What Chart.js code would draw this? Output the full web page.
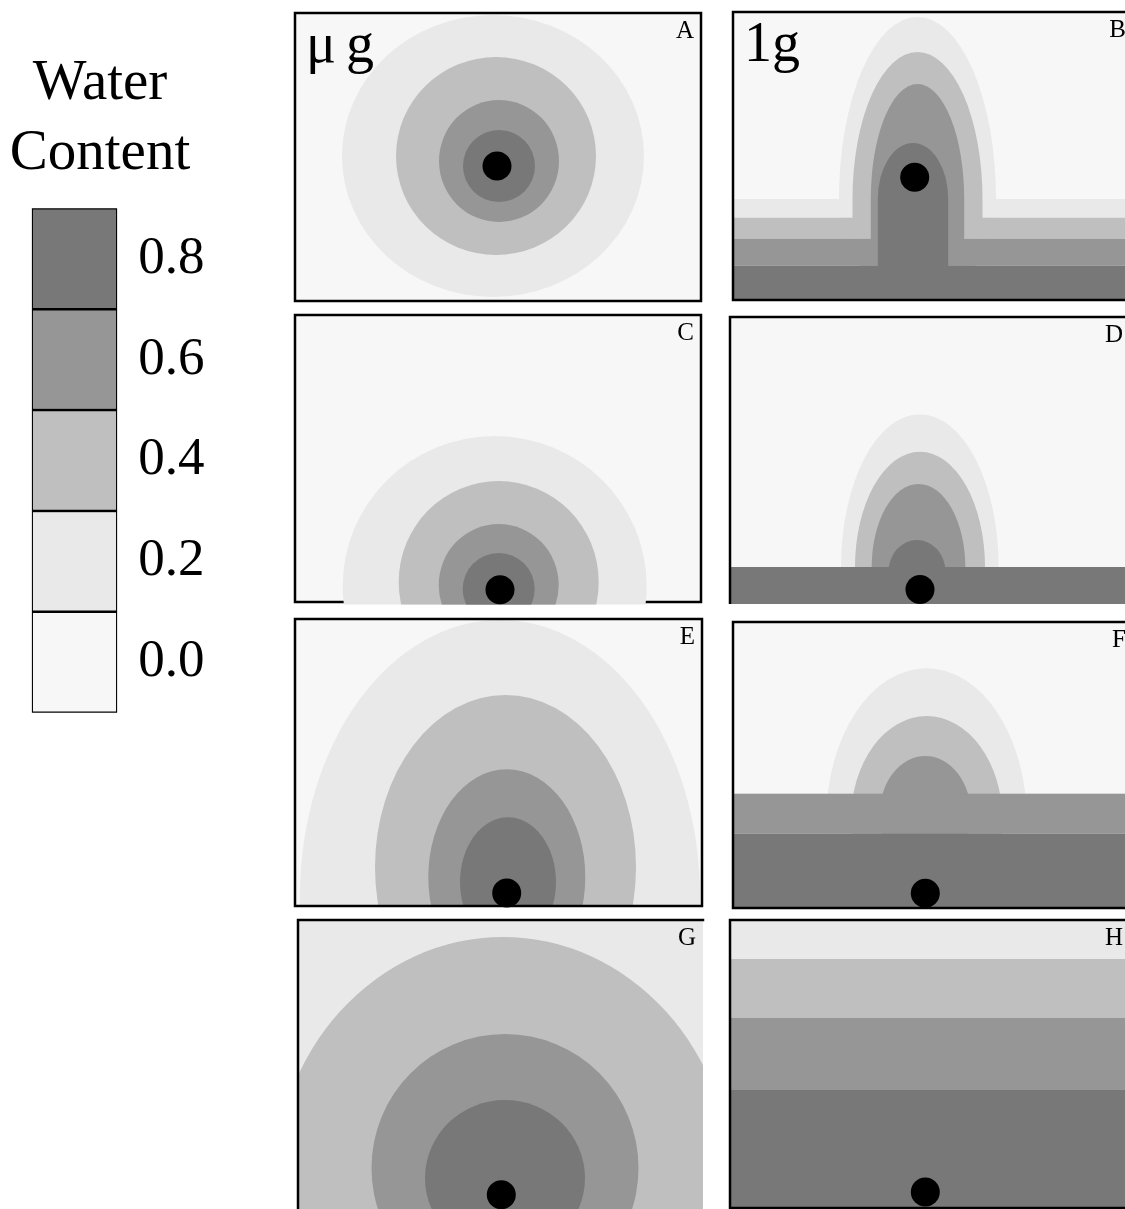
<!DOCTYPE html>
<html>
<head>
<meta charset="utf-8">
<script src="https://cdn.jsdelivr.net/npm/chart.js@4.4.1/dist/chart.umd.min.js"></script>
<style>
  html, body { margin: 0; padding: 0; background: #fff; }
  body { width: 1125px; height: 1209px; overflow: hidden; position: relative; }
  canvas { position: absolute; }
</style>
</head>
<body>
<canvas id="legend" width="230" height="780" style="left:-9px;top:0;width:230px;height:780px"></canvas>
<script>
// water content classes
const levels = [0.0, 0.2, 0.4, 0.6, 0.8];
const levelLabels = ['0.0', '0.2', '0.4', '0.6', '0.8'];
const panelLetters = ['A', 'B', 'C', 'D', 'E', 'F', 'G', 'H'];
const gravityLabels = ['\u03bcg', '1g'];

// contour ellipses: [level, centre x, centre depth, half width, half height]
const contoursA = [[0.2, 198, 143, 151, 141], [0.4, 201, 143, 100, 99], [0.6, 204, 148, 60, 61], [0.8, 204, 153, 36, 36]];
const contoursB = [[0.2, 184.5, 187, 78.5, 182], [0.4, 184.5, 187, 65, 147], [0.6, 184.5, 187, 46.7, 115], [0.8, 180, 187, 35.2, 56]];
const contoursC = [[0.2, 199.7, 271, 152, 150], [0.4, 203.7, 267, 100, 101], [0.6, 203.7, 270, 60, 61], [0.8, 203.7, 274, 36, 36]];
const contoursD = [[0.2, 189.8, 250, 78.8, 152.7], [0.4, 190, 250, 65, 115.3], [0.6, 188.5, 250, 46.8, 83], [0.8, 187, 255, 28.5, 32]];
const contoursE = [[0.2, 205, 277, 200, 276], [0.4, 210.5, 248, 130.5, 172], [0.6, 211.8, 258, 78.5, 107.7], [0.8, 213, 263, 48, 64.7]];
const contoursF = [[0.2, 193.5, 198, 100.3, 151.7], [0.4, 193.7, 198, 75.8, 104], [0.6, 192.3, 193, 45.8, 59]];
const contoursG = [[0.4, 205, 270, 230, 253], [0.6, 207, 248, 133.5, 134], [0.8, 207, 258, 80, 78]];

// horizontal layers: [level, top depth, bottom depth]
const layersB = [[0.2, 187, 205.7], [0.4, 205.7, 226.7], [0.6, 226.7, 253.7], [0.8, 253.7, 288]];
const layersD = [[0.8, 250, 287]];
const layersF = [[0.6, 171.7, 211.7], [0.8, 211.7, 286]];
const layersH = [[0.2, 0, 39], [0.4, 39, 97.7], [0.6, 97.7, 170], [0.8, 170, 288]];

// wet columns below the source in B: [level, x0, x1, top depth, bottom depth]
const columnsB = [[0.4, 119.5, 249.5, 187, 226.7], [0.6, 137.8, 231.2, 187, 253.7], [0.8, 144.8, 215.2, 187, 288]];

// water source position [x, depth]
const seedA = [202, 153];
const seedB = [181.7, 165.2];
const seedC = [205, 274.7];
const seedD = [190, 272.5];
const seedE = [211.7, 274];
const seedF = [192.3, 271.2];
const seedG = [203.3, 274.7];
const seedH = [195.3, 272];

const groundG = 0.2;

const shades = ['#f7f7f7', '#e9e9e9', '#bfbfbf', '#969696', '#787878'];
const shade = lv => shades[levels.indexOf(lv)];
const SERIF = '"Liberation Serif", "Times New Roman", serif';

// ---- legend (a single stacked bar) ----
new Chart(document.getElementById('legend'), {
  type: 'bar',
  data: {
    labels: [''],
    datasets: levels.map((lv, i) => ({
      label: levelLabels[i],
      data: [0.2],
      backgroundColor: shade(lv),
      borderColor: '#000',
      borderWidth: 1.6,
      borderSkipped: false,
      barPercentage: 1,
      categoryPercentage: 1,
      yAxisID: 'y'
    }))
  },
  options: {
    responsive: false,
    animation: false,
    events: [],
    layout: { autoPadding: false, padding: { left: 0, right: 12, top: 0, bottom: 67.3 } },
    scales: {
      x: { stacked: true, display: false },
      gap: {
        type: 'linear', axis: 'y', position: 'left', display: true,
        ticks: { display: false }, grid: { display: false, drawTicks: false }, border: { display: false },
        afterFit: s => { s.width = 40.7; }
      },
      y: {
        stacked: true, position: 'right', min: 0, max: 1,
        grid: { display: false, drawTicks: false }, border: { display: false },
        afterBuildTicks: s => { s.ticks = levels.map(v => ({ value: v + 0.1 })); },
        ticks: {
          callback: (v, i) => levelLabels[i],
          color: '#000', padding: 21,
          font: { family: SERIF, size: 53 }
        },
        afterFit: s => { s.width = 91.7; }
      }
    },
    plugins: {
      legend: { display: false },
      tooltip: { enabled: false },
      title: {
        display: true,
        text: ['Water', 'Content'],
        color: '#000',
        font: { family: SERIF, size: 57, weight: 'normal', lineHeight: 70 / 57 },
        padding: { top: 49, bottom: 19.3 }
      }
    }
  }
});

// ---- panels ----
const panels = [
  { contours: contoursA, layers: [], columns: [], seed: seedA, ground: 0.0, tag: gravityLabels[0] },
  { contours: contoursB, layers: layersB, columns: columnsB, seed: seedB, ground: 0.0, tag: gravityLabels[1] },
  { contours: contoursC, layers: [], columns: [], seed: seedC, ground: 0.0 },
  { contours: contoursD, layers: layersD, columns: [], seed: seedD, ground: 0.0 },
  { contours: contoursE, layers: [], columns: [], seed: seedE, ground: 0.0 },
  { contours: contoursF, layers: layersF, columns: [], seed: seedF, ground: 0.0 },
  { contours: contoursG, layers: [], columns: [], seed: seedG, ground: groundG },
  { contours: [], layers: layersH, columns: [], seed: seedH, ground: 0.0 }
];

// where each panel sits on the page
const frames = [
  { left: 295, top: 13, w: 406, h: 288, sides: 'tlbr' },
  { left: 733, top: 12, w: 400, h: 288, sides: 'tlbr' },
  { left: 295, top: 315, w: 406, h: 287, sides: 'tlbr', under: true, overhang: 2.5 },
  { left: 730, top: 317, w: 400, h: 287, sides: 'tl' },
  { left: 295, top: 619, w: 407, h: 287, sides: 'tlbr' },
  { left: 733, top: 622, w: 400, h: 286, sides: 'tlbr' },
  { left: 298, top: 920, w: 405, h: 290, sides: 'tl' },
  { left: 730, top: 920, w: 400, h: 288, sides: 'tlbr' }
];

const PAD = 6;

function drawFrame(ctx, a, sides) {
  ctx.save();
  ctx.strokeStyle = '#000';
  ctx.lineWidth = 2.5;
  ctx.beginPath();
  if (sides.includes('t')) { ctx.moveTo(a.left - 1.25, a.top); ctx.lineTo(a.right + 1.25, a.top); }
  if (sides.includes('b')) { ctx.moveTo(a.left - 1.25, a.bottom); ctx.lineTo(a.right + 1.25, a.bottom); }
  if (sides.includes('l')) { ctx.moveTo(a.left, a.top); ctx.lineTo(a.left, a.bottom); }
  if (sides.includes('r')) { ctx.moveTo(a.right, a.top); ctx.lineTo(a.right, a.bottom); }
  ctx.stroke();
  ctx.restore();
}

function panelPlugin(p, f, letter) {
  return {
    id: 'panel' + letter,
    beforeDatasetsDraw(chart) {
      const ctx = chart.ctx, a = chart.chartArea;
      const xs = chart.scales.x, ys = chart.scales.y;
      const X = v => xs.getPixelForValue(v);
      const Y = v => ys.getPixelForValue(v);

      ctx.save();
      ctx.fillStyle = shade(p.ground);
      ctx.fillRect(a.left, a.top, a.width, a.height);
      ctx.restore();
      if (f.under) drawFrame(ctx, a, f.sides);

      ctx.save();
      ctx.beginPath();
      ctx.rect(a.left, a.top, a.width, a.height + (f.overhang || 0));
      ctx.clip();
      p.contours.forEach(([lv, cx, cy, rx, ry]) => {
        ctx.fillStyle = shade(lv);
        ctx.beginPath();
        ctx.ellipse(X(cx), Y(cy), Math.abs(X(cx + rx) - X(cx)), Math.abs(Y(cy + ry) - Y(cy)), 0, 0, Math.PI * 2);
        ctx.fill();
      });
      p.layers.forEach(([lv, y0, y1]) => {
        ctx.fillStyle = shade(lv);
        ctx.fillRect(X(xs.min), Y(y0), X(xs.max) - X(xs.min), Y(y1) - Y(y0));
      });
      p.columns.forEach(([lv, x0, x1, y0, y1]) => {
        ctx.fillStyle = shade(lv);
        ctx.fillRect(X(x0), Y(y0), X(x1) - X(x0), Y(y1) - Y(y0));
      });
      ctx.restore();

      if (!f.under) drawFrame(ctx, a, f.sides);

      ctx.save();
      ctx.fillStyle = '#000';
      ctx.textBaseline = 'alphabetic';
      ctx.font = '25px ' + SERIF;
      ctx.textAlign = 'right';
      ctx.fillText(letter, a.right - 7, a.top + 25);
      if (p.tag) {
        ctx.font = '56px ' + SERIF;
        ctx.textAlign = 'left';
        if (letter === 'A') {
          ctx.letterSpacing = '10px';
          ctx.fillText(p.tag, a.left + 11, a.top + 49);
        } else {
          ctx.fillText(p.tag, a.left + 11, a.top + 49);
        }
      }
      ctx.restore();
    }
  };
}

panels.forEach((p, i) => {
  const f = frames[i];
  const cv = document.createElement('canvas');
  cv.width = f.w + 2 * PAD;
  cv.height = f.h + 2 * PAD;
  cv.style.left = (f.left - PAD) + 'px';
  cv.style.top = (f.top - PAD) + 'px';
  cv.style.width = cv.width + 'px';
  cv.style.height = cv.height + 'px';
  document.body.appendChild(cv);

  new Chart(cv, {
    type: 'scatter',
    data: {
      datasets: [{
        data: [{ x: p.seed[0], y: p.seed[1] }],
        backgroundColor: '#000',
        borderWidth: 0,
        pointRadius: 14.5,
        pointHoverRadius: 14.5,
        clip: false
      }]
    },
    options: {
      responsive: false,
      animation: false,
      events: [],
      layout: { autoPadding: false, padding: PAD },
      scales: {
        x: { type: 'linear', min: 0, max: f.w, display: false },
        y: { type: 'linear', min: 0, max: f.h, reverse: true, display: false }
      },
      plugins: { legend: { display: false }, tooltip: { enabled: false } }
    },
    plugins: [panelPlugin(p, f, panelLetters[i])]
  });
});
</script>
</body>
</html>
